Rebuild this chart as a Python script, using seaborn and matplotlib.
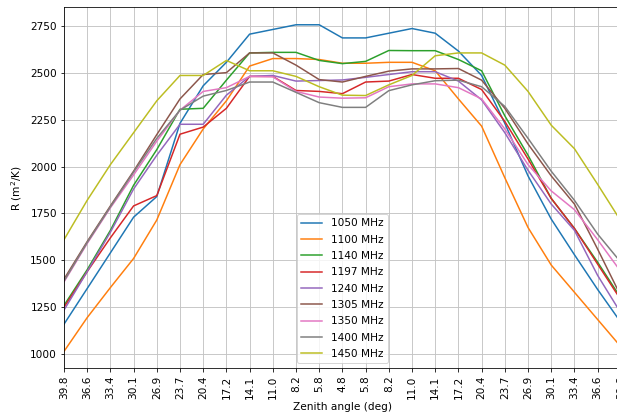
import matplotlib
matplotlib.use("Agg")
import numpy as np
import pandas as pd
import matplotlib.pyplot as plt
import seaborn as sns

## Data
angles = ["39.8", "36.6", "33.4", "30.1", "26.9", "23.7", "20.4", "17.2", "14.1", "11.0", "8.2", "5.8", "4.8",
          "5.8", "8.2", "11.0", "14.1", "17.2", "20.4", "23.7", "26.9", "30.1", "33.4", "36.6", "39.8"]
freqs = ["1050 MHz", "1100 MHz", "1140 MHz", "1197 MHz", "1240 MHz", "1305 MHz", "1350 MHz", "1400 MHz", "1450 MHz"]

r_1050 = [1160, 1350, 1540, 1730, 1840, 2230, 2430, 2555, 2705, 2730, 2755, 2755, 2685,
          2685, 2710, 2735, 2710, 2615, 2485, 2230, 1950, 1720, 1530, 1345, 1170]
r_1100 = [1015, 1195, 1355, 1510, 1715, 2010, 2200, 2350, 2535, 2575, 2575, 2570, 2550,
          2550, 2555, 2555, 2510, 2360, 2215, 1940, 1675, 1475, 1330, 1185, 1040]
r_1140 = [1260, 1450, 1660, 1900, 2090, 2305, 2310, 2460, 2605, 2608, 2608, 2565, 2548,
          2560, 2618, 2617, 2617, 2570, 2510, 2270, 2060, 1830, 1670, 1490, 1300]
r_1197 = [1250, 1440, 1620, 1790, 1845, 2172, 2210, 2310, 2480, 2480, 2405, 2400, 2388,
          2450, 2455, 2490, 2470, 2470, 2410, 2240, 2040, 1830, 1670, 1480, 1290]
r_1240 = [1235, 1440, 1650, 1880, 2060, 2225, 2225, 2380, 2480, 2485, 2455, 2458, 2461,
          2475, 2490, 2505, 2505, 2455, 2355, 2180, 1980, 1800, 1660, 1420, 1220]
r_1305 = [1400, 1600, 1790, 1975, 2170, 2360, 2490, 2500, 2605, 2605, 2540, 2463, 2450,
          2480, 2508, 2520, 2520, 2522, 2460, 2310, 2120, 1950, 1800, 1560, 1310]
r_1350 = [1385, 1590, 1780, 1955, 2135, 2300, 2400, 2420, 2480, 2478, 2400, 2370, 2364,
          2366, 2425, 2440, 2440, 2420, 2360, 2200, 2010, 1870, 1770, 1610, 1440]
r_1400 = [1390, 1595, 1785, 1970, 2150, 2300, 2375, 2405, 2450, 2450, 2395, 2340, 2315,
          2315, 2404, 2435, 2457, 2460, 2425, 2320, 2150, 1975, 1820, 1640, 1490]
r_1450 = [1610, 1820, 2010, 2180, 2350, 2485, 2485, 2565, 2510, 2510, 2480, 2425, 2380,
          2378, 2435, 2485, 2590, 2605, 2605, 2540, 2400, 2220, 2095, 1905, 1710]

series = [r_1050, r_1100, r_1140, r_1197, r_1240, r_1305, r_1350, r_1400, r_1450]

# long form table for seaborn
rows = []
for name, vals in zip(freqs, series):
    for i, v in enumerate(vals):
        rows.append({"pos": i, "R": v, "freq": name})
df = pd.DataFrame(rows)

plt.rcParams["font.size"] = 10.5
fig = plt.figure(figsize=(617 / 72, 418 / 72), dpi=72)
ax = fig.add_axes([0.1037, 0.1189, 0.9025, 0.8636])

sns.lineplot(data=df, x="pos", y="R", hue="freq", hue_order=freqs, palette="tab10",
             linewidth=1.5, ax=ax)

ax.set_xticks(range(len(angles)))
ax.set_xticklabels(angles, rotation=90)
ax.set_xlim(0, len(angles) - 1)
ax.set_yticks(np.arange(1000, 2751, 250))
ax.set_ylim(925, 2848)
ax.grid(True, color="#c4c4c4", linewidth=0.9)
ax.set_xlabel("Zenith angle (deg)", labelpad=3)
ax.set_ylabel("R (m$^2$/K)", labelpad=6)

handles, labels = ax.get_legend_handles_labels()
ax.legend(handles, labels, loc="lower center", labelspacing=0.6)

fig.savefig("out.png", dpi=72)
